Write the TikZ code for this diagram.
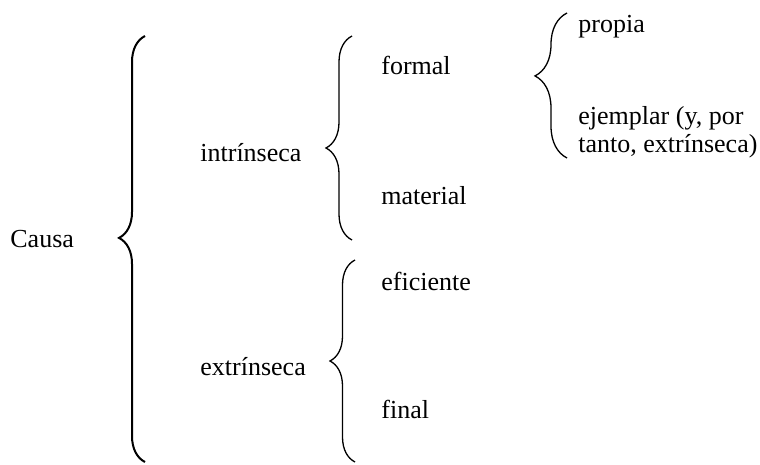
\documentclass[tikz,border=0pt]{standalone}
\usepackage{fontspec}
\setmainfont{Liberation Serif}
\usetikzlibrary{decorations.pathreplacing}

\begin{document}
\begin{tikzpicture}[x=0.5pt, y=-0.5pt,
        lbl/.style={anchor=base west, inner sep=0pt, font=\fontsize{13}{14}\selectfont},
        brc/.style={decorate, line width=0.65pt,
            decoration={brace, amplitude=#1}}]
        \useasboundingbox (0,0) rectangle (760,465);
        \node[lbl] (causa) at (10,247) {Causa};
        \node[lbl] (intr) at (200,162) {intrínseca};
        \node[lbl] (extr) at (200,375) {extrínseca};
        \node[lbl] (formal) at (381,75) {formal};
        \node[lbl] (material) at (381,204) {material};
        \node[lbl] (eficiente) at (381,290) {eficiente};
        \node[lbl] (final) at (381,418) {final};
        \node[lbl] (propia) at (578,33) {propia};
        \node[lbl, align=left] (ejemplar) at (578,153) {ejemplar (y, por\\tanto, extrínseca)};
        % brace ends
        \coordinate (c1) at (145,462);
        \coordinate (c2) at (145,36);
        \coordinate (i1) at (352,240);
        \coordinate (i2) at (352,36);
        \coordinate (e1) at (355,462);
        \coordinate (e2) at (355,260);
        \coordinate (f1) at (567,158);
        \coordinate (f2) at (567,13);
        \draw[brc=13pt, line width=1pt, decoration={aspect=0.526}] (c1) -- (c2);
        \draw[brc=13pt, decoration={aspect=0.451}] (i1) -- (i2);
        \draw[brc=12.5pt, decoration={aspect=0.5}] (e1) -- (e2);
        \draw[brc=16pt, decoration={aspect=0.566}] (f1) -- (f2);
    \end{tikzpicture}
\end{document}
